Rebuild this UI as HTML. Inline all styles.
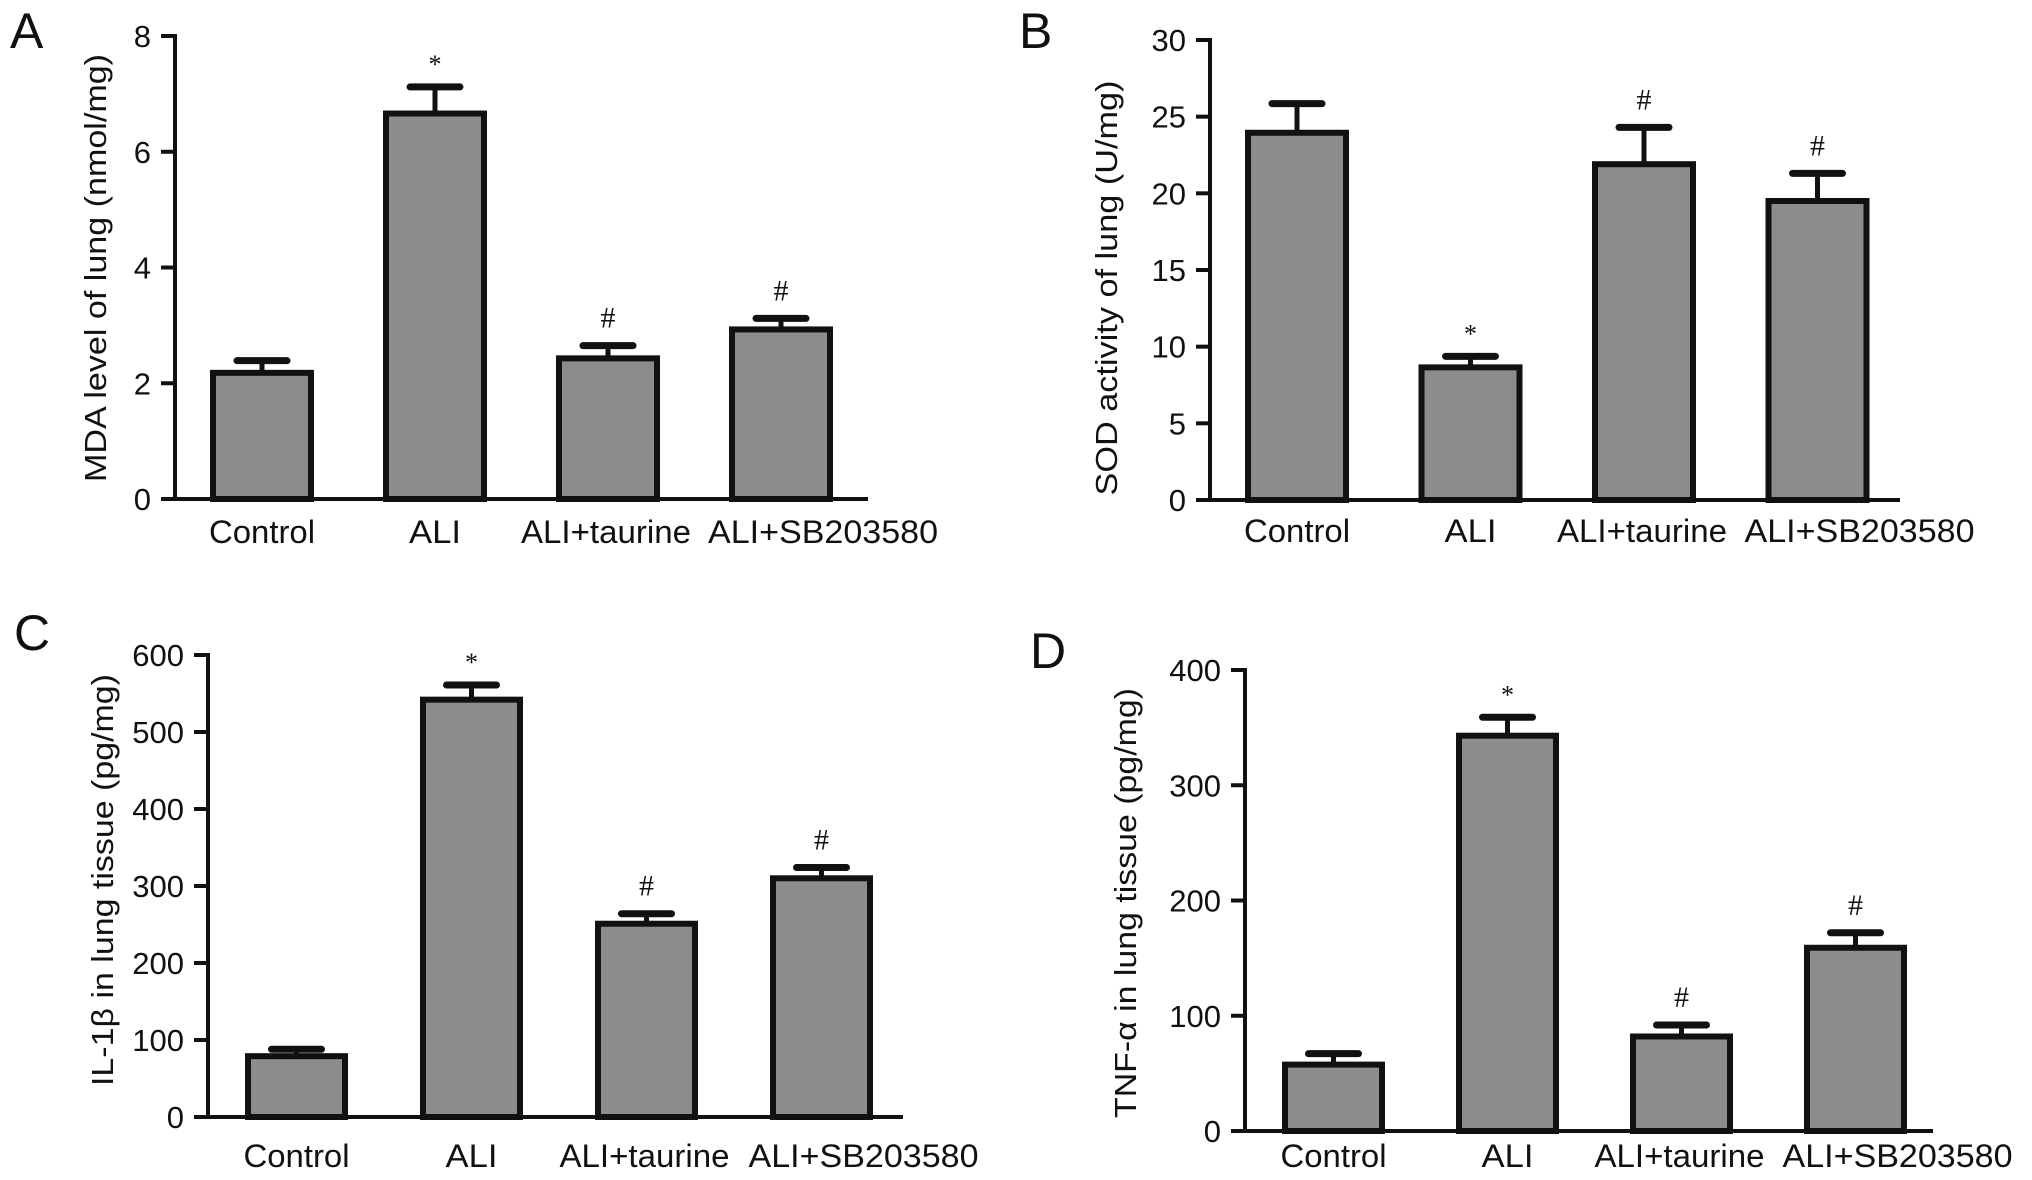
<!DOCTYPE html>
<html><head><meta charset="utf-8">
<style>
html,body{margin:0;padding:0;background:#fff;}
svg{display:block;font-family:"Liberation Sans",Arial,sans-serif;}
</style></head>
<body>
<svg id="fig" width="2032" height="1180" viewBox="0 0 2032 1180" xmlns="http://www.w3.org/2000/svg"></svg>
<script>
const categories = ["Control", "ALI", "ALI+taurine", "ALI+SB203580"];
const mdaValues = [2.18, 6.66, 2.43, 2.93];
const mdaErrors = [0.21, 0.46, 0.22, 0.19];
const mdaTicks = [0, 2, 4, 6, 8];
const sodValues = [23.95, 8.65, 21.9, 19.5];
const sodErrors = [1.9, 0.72, 2.4, 1.8];
const sodTicks = [0, 5, 10, 15, 20, 25, 30];
const il1bValues = [79, 542, 251, 310];
const il1bErrors = [9, 19, 13, 14];
const il1bTicks = [0, 100, 200, 300, 400, 500, 600];
const tnfValues = [57.6, 343, 82, 159];
const tnfErrors = [9.5, 16, 10, 13];
const tnfTicks = [0, 100, 200, 300, 400];
const sigMarks = ["", "*", "#", "#"];
const sigMarksB = ["", "*", "#", "#"];

const labelWidths = [106, 52, 170, 230];
const labelShift = [0, 0, -2, 42];

const NS = "http://www.w3.org/2000/svg";
const svg = document.getElementById("fig");
function mk(tag, attrs, parent) {
  const e = document.createElementNS(NS, tag);
  for (const k in attrs) e.setAttribute(k, attrs[k]);
  (parent || svg).appendChild(e);
  return e;
}

function panel(cfg) {
  const g = mk("g", {});
  
  
  const maxV = cfg.ticks[cfg.ticks.length - 1];
  const yScale = v => cfg.y0 - (v / maxV) * (cfg.y0 - cfg.yTop);
  const xScale = i => cfg.firstBar + i * cfg.step;
  const L = mk("text", {x: cfg.letterX, y: cfg.letterY, "font-size": 50, fill: "#111"}, g);
  L.textContent = cfg.letter;
  
  
  const ya = mk("line", {x1: cfg.axisX, y1: cfg.yTop - 2, x2: cfg.axisX, y2: cfg.y0, stroke: "#111", "stroke-width": 4}, g);
  
  
  const xa = mk("line", {x1: cfg.axisX - 12, y1: cfg.y0, x2: cfg.xEnd, y2: cfg.y0, stroke: "#111", "stroke-width": 4}, g);
  
  
  cfg.ticks.forEach(t => {
    const y = yScale(t);
    const tk = mk("line", {x1: cfg.axisX - 14, y1: y, x2: cfg.axisX, y2: y, stroke: "#111", "stroke-width": 4}, g);
    
    
    const tl = mk("text", {x: cfg.axisX - 24, y: y + 11, "font-size": 31, "text-anchor": "end", fill: "#111"}, g);
    tl.textContent = t;
    
    
  });
  const tt = mk("text", {x: 0, y: 0, "font-size": 31, "text-anchor": "middle", fill: "#111",
    transform: "translate(" + cfg.titleX + "," + cfg.titleY + ") rotate(-90)",
    textLength: cfg.titleLen, lengthAdjust: "spacingAndGlyphs"}, g);
  tt.innerHTML = cfg.title;
  
  
  const bw = cfg.barW;
  cfg.values.forEach((v, i) => {
    const cx = xScale(i) + bw / 2;
    const top = yScale(v);
    const et = yScale(v + cfg.errors[i]);
    const eb = mk("line", {x1: cx, y1: top, x2: cx, y2: et, stroke: "#111", "stroke-width": 5}, g);
    
    
    const cap = mk("line", {x1: cx - 25, y1: et, x2: cx + 25, y2: et, stroke: "#111", "stroke-width": 7, "stroke-linecap": "round"}, g);
    
    
    const r = mk("rect", {x: xScale(i), y: top, width: bw, height: cfg.y0 - top, fill: "#8c8c8c", stroke: "#111", "stroke-width": 6}, g);
    
    
    if (cfg.marks[i]) {
      const m = mk("text", {x: cx, y: et - (cfg.marks[i] === "*" ? 14 : 18), "font-size": cfg.marks[i] === "*" ? 26 : 30, "text-anchor": "middle", fill: "#111", "font-family": "Liberation Serif, serif"}, g);
      m.textContent = cfg.marks[i];
      
      
    }
    const lx = cx + labelShift[i] - labelWidths[i] / 2;
    const cl = mk("text", {x: lx, y: cfg.labelY, "font-size": 32, fill: "#111",
      textLength: labelWidths[i], lengthAdjust: "spacingAndGlyphs"}, g);
    cl.textContent = categories[i];
    
    
  });
}

panel({name: "panel-a-mda", letter: "A", letterX: 10, letterY: 48, axisX: 175, y0: 499, yTop: 36, xEnd: 868,
  firstBar: 213, step: 173, barW: 98, ticks: mdaTicks, values: mdaValues, errors: mdaErrors, marks: sigMarks,
  title: "MDA level of lung (nmol/mg)", titleX: 106, titleY: 268, titleLen: 428, labelY: 543});
panel({name: "panel-b-sod", letter: "B", letterX: 1019, letterY: 48, axisX: 1210, y0: 500, yTop: 40, xEnd: 1900,
  firstBar: 1248, step: 173.5, barW: 98, ticks: sodTicks, values: sodValues, errors: sodErrors, marks: sigMarksB,
  title: "SOD activity of lung (U/mg)", titleX: 1117, titleY: 288, titleLen: 415, labelY: 542});
panel({name: "panel-c-il1b", letter: "C", letterX: 14, letterY: 650, axisX: 208, y0: 1117, yTop: 655, xEnd: 903,
  firstBar: 248, step: 175, barW: 97, ticks: il1bTicks, values: il1bValues, errors: il1bErrors, marks: sigMarks,
  title: "IL-1&#946; in lung tissue (pg/mg)", titleX: 113, titleY: 880, titleLen: 412, labelY: 1167});
panel({name: "panel-d-tnf", letter: "D", letterX: 1030, letterY: 668, axisX: 1245, y0: 1131, yTop: 670, xEnd: 1933,
  firstBar: 1285, step: 174, barW: 97, ticks: tnfTicks, values: tnfValues, errors: tnfErrors, marks: sigMarks,
  title: "TNF-&#945; in lung tissue (pg/mg)", titleX: 1136, titleY: 903, titleLen: 430, labelY: 1167});
</script>
</body></html>
